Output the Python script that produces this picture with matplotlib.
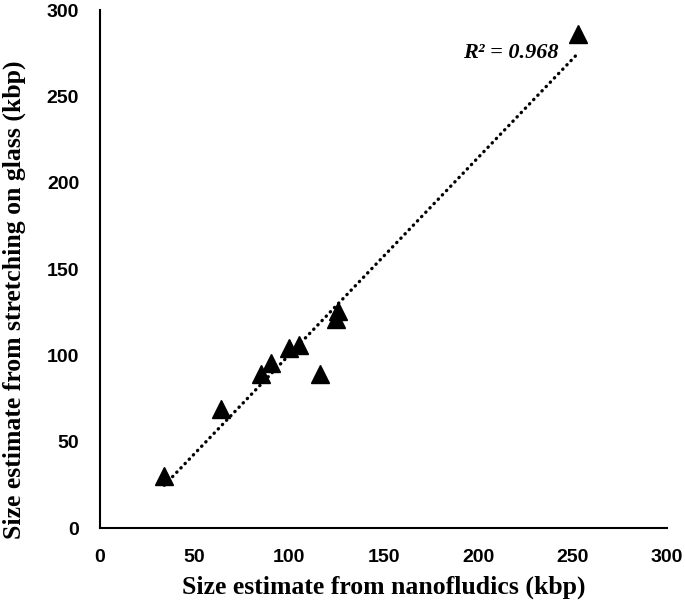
import numpy as np
import matplotlib
matplotlib.use('Agg')
import matplotlib.pyplot as plt

# size estimates (kbp)
nanofluidics = [34, 64, 85, 90.5, 100, 105, 116.5, 125, 126, 253]
glass = [30, 69, 89.5, 95.5, 104, 106, 89, 121, 125.5, 286]
r2_label = 'R\u00b2 = 0.968'

x = np.array(nanofluidics)
y = np.array(glass)
slope, intercept = np.polyfit(x, y, 1)
xfit = np.array([x.min(), x.max()])

fig = plt.figure(figsize=(6.85, 6.07), dpi=100)
ax = fig.add_axes([0.146, 0.130, 0.828, 0.8535])

ax.plot(xfit, slope * xfit + intercept, color='black', linestyle=(0, (0.1, 1.7)),
        linewidth=2.4, dash_capstyle='round', zorder=1)
ax.plot(x, y, linestyle='none', marker='^', markersize=13, color='black', zorder=2)

ax.text(192, 275, r2_label, fontfamily='Liberation Serif', fontweight='bold',
        fontstyle='italic', fontsize=16, va='center', ha='left')

ax.set_xlim(0, 300)
ax.set_ylim(0, 300)
ax.set_xticks(range(0, 301, 50))
ax.set_yticks(range(0, 301, 50))
ax.tick_params(length=0, pad=15, labelsize=14)
for lab in ax.get_xticklabels() + ax.get_yticklabels():
    lab.set_fontfamily('Liberation Sans')
    lab.set_fontweight('bold')

for s in ['top', 'right']:
    ax.spines[s].set_visible(False)
for s in ['left', 'bottom']:
    ax.spines[s].set_linewidth(1.5)

ax.set_xlabel('Size estimate from nanofludics (kbp)', fontfamily='Liberation Serif',
              fontweight='bold', fontsize=18.5, labelpad=7)
ax.set_ylabel('Size estimate from stretching on glass (kbp)', fontfamily='Liberation Serif',
              fontweight='bold', fontsize=18.5)
ax.yaxis.set_label_coords(-0.130, 0.44)

fig.savefig('out.png', dpi=100)
